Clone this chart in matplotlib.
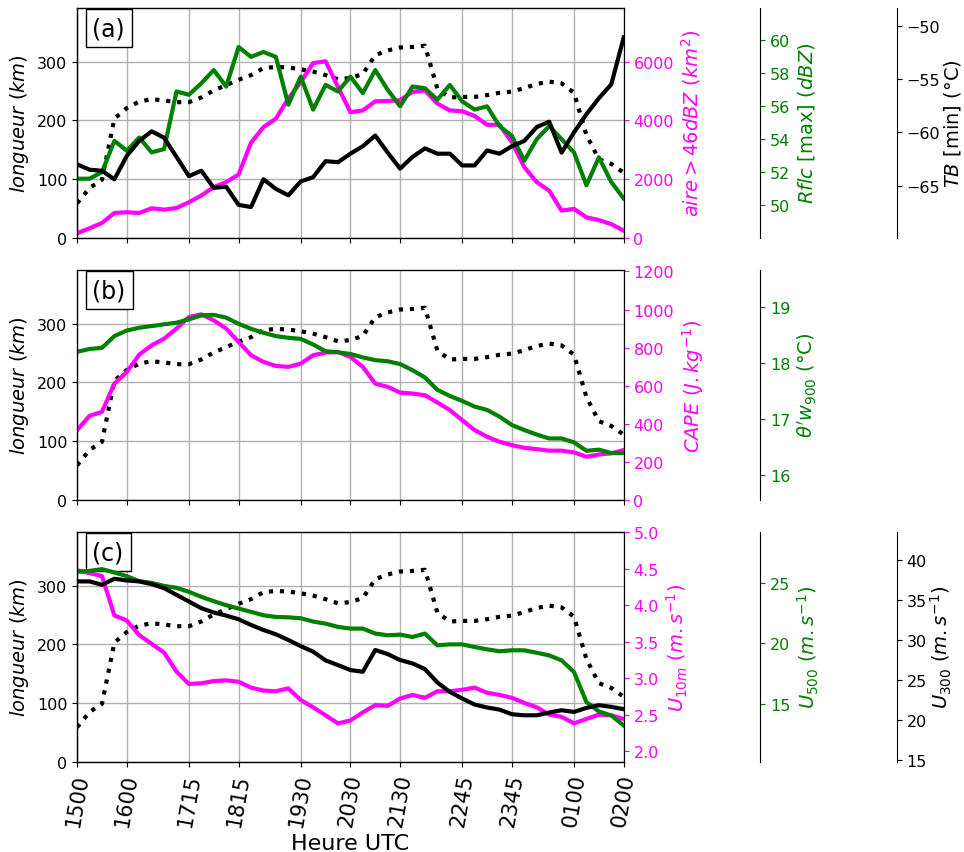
import numpy as np
import matplotlib
matplotlib.use("Agg")
import matplotlib.pyplot as plt

# heures (pas de 15 min)
heures = ["1500", "1515", "1530", "1545", "1600", "1615", "1630", "1645", "1700",
          "1715", "1730", "1745", "1800", "1815", "1830", "1845", "1900", "1915",
          "1930", "1945", "2000", "2015", "2030", "2045", "2100", "2115", "2130",
          "2145", "2200", "2215", "2230", "2245", "2300", "2315", "2330", "2345",
          "0000", "0015", "0030", "0045", "0100", "0115", "0130", "0145", "0200"]
xticklabels = ["1500", "1600", "1715", "1815", "1930", "2030", "2130",
               "2245", "2345", "0100", "0200"]

longueur = [59, 85, 99, 203, 221, 232, 236, 234, 231, 231, 239, 251, 260, 269, 277,
            289, 291, 290, 287, 283, 277, 270, 272, 279, 311, 319, 324, 325, 327,
            254, 239, 240, 240, 243, 247, 249, 255, 262, 266, 263, 247, 175, 134,
            126, 111]

# (a)
aire = [160, 330, 510, 850, 875, 850, 1010, 965, 1020, 1215, 1445, 1730, 1900, 2160,
        3240, 3770, 4060, 4740, 5300, 5950, 6010, 5140, 4280, 4340, 4650, 4660, 4690,
        4970, 5020, 4570, 4340, 4310, 4150, 3850, 3850, 3260, 2410, 1900, 1610, 930,
        990, 700, 610, 470, 250]
rflc = [51.6, 51.6, 52.0, 53.9, 53.3, 54.1, 53.2, 53.4, 56.9, 56.7, 57.4, 58.2, 57.2,
        59.6, 59.0, 59.3, 59.0, 56.1, 57.8, 55.8, 57.3, 56.9, 57.8, 56.8, 58.2, 57.0,
        56.0, 57.2, 57.1, 56.4, 57.3, 56.3, 55.8, 56.0, 54.8, 54.2, 52.7, 54.0, 54.8,
        54.0, 53.2, 51.2, 52.9, 51.4, 50.4]
tb = [-63.0, -63.5, -63.6, -64.4, -62.2, -60.8, -59.9, -60.5, -62.3, -64.1, -63.6,
      -65.2, -65.1, -66.8, -67.0, -64.4, -65.3, -65.9, -64.6, -64.2, -62.7, -62.8,
      -62.0, -61.3, -60.3, -61.9, -63.4, -62.3, -61.5, -62.0, -62.0, -63.1, -63.1,
      -61.7, -62.0, -61.3, -60.8, -59.5, -59.0, -61.9, -60.0, -58.3, -56.8, -55.5,
      -51.1]

# (b)
cape = [367, 442, 463, 611, 672, 763, 812, 847, 900, 961, 975, 943, 900, 830, 760,
        725, 704, 699, 716, 760, 774, 777, 751, 699, 611, 594, 564, 559, 550, 512,
        472, 419, 367, 332, 306, 288, 274, 267, 259, 259, 250, 227, 239, 245, 262]
thetaw = [18.20, 18.25, 18.27, 18.48, 18.58, 18.63, 18.66, 18.69, 18.72, 18.78, 18.85,
          18.86, 18.81, 18.70, 18.61, 18.54, 18.48, 18.45, 18.43, 18.33, 18.21, 18.19,
          18.16, 18.10, 18.05, 18.03, 17.98, 17.87, 17.74, 17.52, 17.41, 17.32, 17.22,
          17.16, 17.04, 16.89, 16.80, 16.72, 16.65, 16.65, 16.58, 16.43, 16.45, 16.39,
          16.39]

# (c)
u10 = [4.48, 4.44, 4.40, 3.86, 3.79, 3.59, 3.47, 3.35, 3.09, 2.92, 2.93, 2.96, 2.97,
       2.95, 2.87, 2.83, 2.82, 2.86, 2.70, 2.60, 2.49, 2.38, 2.42, 2.53, 2.63, 2.62,
       2.72, 2.77, 2.73, 2.82, 2.82, 2.84, 2.87, 2.80, 2.77, 2.73, 2.66, 2.60, 2.50,
       2.47, 2.38, 2.44, 2.50, 2.49, 2.44]
u500 = [25.88, 25.96, 26.10, 25.83, 25.52, 25.11, 24.97, 24.72, 24.56, 24.23, 23.82,
        23.46, 23.13, 22.85, 22.58, 22.30, 22.16, 22.13, 22.05, 21.78, 21.61, 21.34,
        21.20, 21.20, 20.79, 20.65, 20.70, 20.51, 20.79, 19.82, 19.90, 19.90, 19.68,
        19.49, 19.33, 19.41, 19.41, 19.21, 18.99, 18.58, 17.62, 15.14, 14.37, 14.04,
        13.21]
u300 = [37.37, 37.37, 36.95, 37.70, 37.49, 37.37, 37.03, 36.53, 35.69, 34.86, 34.02,
        33.48, 33.10, 32.64, 31.93, 31.30, 30.76, 30.05, 29.28, 28.59, 27.50, 26.91,
        26.29, 26.08, 28.80, 28.29, 27.54, 27.12, 26.41, 24.74, 23.57, 22.73, 21.98,
        21.61, 21.35, 20.77, 20.64, 20.64, 20.98, 21.27, 21.06, 21.56, 21.90, 21.69,
        21.40]


def minutes(h):
    m = int(h[:2]) * 60 + int(h[2:])
    if m < 15 * 60:
        m += 24 * 60
    return m - 15 * 60


t = np.array([minutes(h) for h in heures])
tticks = [minutes(h) for h in xticklabels]

MAG = "#ff00ff"
GRN = "green"
LW = 3

fig, axs = plt.subplots(3, 1, figsize=(9.64, 8.53), dpi=100, sharex=True)
fig.subplots_adjust(left=0.08, right=0.647, bottom=0.1055, top=0.99, hspace=0.137)


def base(ax, lettre):
    ax.plot(t, longueur, "k:", lw=LW)
    ax.set_ylim(0, 392)
    ax.set_yticks([0, 100, 200, 300])
    ax.set_ylabel("$longueur$ $(km)$", fontsize=14)
    ax.tick_params(axis="y", labelsize=11.5)
    ax.grid(True, color="#b0b0b0", lw=1)
    ax.set_xlim(0, 660)
    ax.text(0.028, 0.962, lettre, transform=ax.transAxes, fontsize=17, va="top",
            ha="left", bbox=dict(facecolor="white", edgecolor="black", pad=5))


def droite(ax, y, col, lim, ticks, label, pos=None, fmt=None, pad=4.0):
    a = ax.twinx()
    if pos is not None:
        a.spines["right"].set_position(("axes", pos))
    a.plot(t, y, color=col, lw=LW)
    a.set_ylim(*lim)
    a.set_yticks(ticks)
    if fmt:
        a.set_yticklabels([fmt % v for v in ticks])
    a.tick_params(axis="y", colors=col, labelsize=11.5)
    a.set_ylabel(label, color=col, fontsize=14, labelpad=pad)
    return a


# (a)
ax = axs[0]
base(ax, "(a)")
droite(ax, aire, MAG, (0, 7840), [0, 2000, 4000, 6000], r"$aire > 46dBZ$ $(km^2)$")
droite(ax, rflc, GRN, (48.0, 62.0), [50, 52, 54, 56, 58, 60],
       r"$Rflc$ [max] $(dBZ)$", pos=1.25)
droite(ax, tb, "black", (-69.9, -48.3), [-65, -60, -55, -50],
       r"$TB$ [min] (°C)", pos=1.5, pad=1.5)

# (b)
ax = axs[1]
base(ax, "(b)")
droite(ax, cape, MAG, (0, 1210), [0, 200, 400, 600, 800, 1000, 1200],
       r"$CAPE$ $(J.kg^{-1})$")
droite(ax, thetaw, GRN, (15.55, 19.67), [16, 17, 18, 19],
       r"$\theta'w_{900}$ (°C)", pos=1.25)

# (c)
ax = axs[2]
base(ax, "(c)")
droite(ax, u10, MAG, (1.85, 5.01), [2.0, 2.5, 3.0, 3.5, 4.0, 4.5, 5.0],
       r"$U_{10m}$ $(m.s^{-1})$", fmt="%.1f")
droite(ax, u500, GRN, (10.2, 29.2), [15, 20, 25], r"$U_{500}$ $(m.s^{-1})$", pos=1.25)
droite(ax, u300, "black", (14.8, 43.6), [15, 20, 25, 30, 35, 40],
       r"$U_{300}$ $(m.s^{-1})$", pos=1.5, pad=1.5)

axs[2].set_xticks(tticks)
axs[2].set_xticklabels(xticklabels, rotation=80, fontsize=15)
axs[2].set_xlabel("Heure UTC", fontsize=16)

fig.savefig("out.png", dpi=100)
